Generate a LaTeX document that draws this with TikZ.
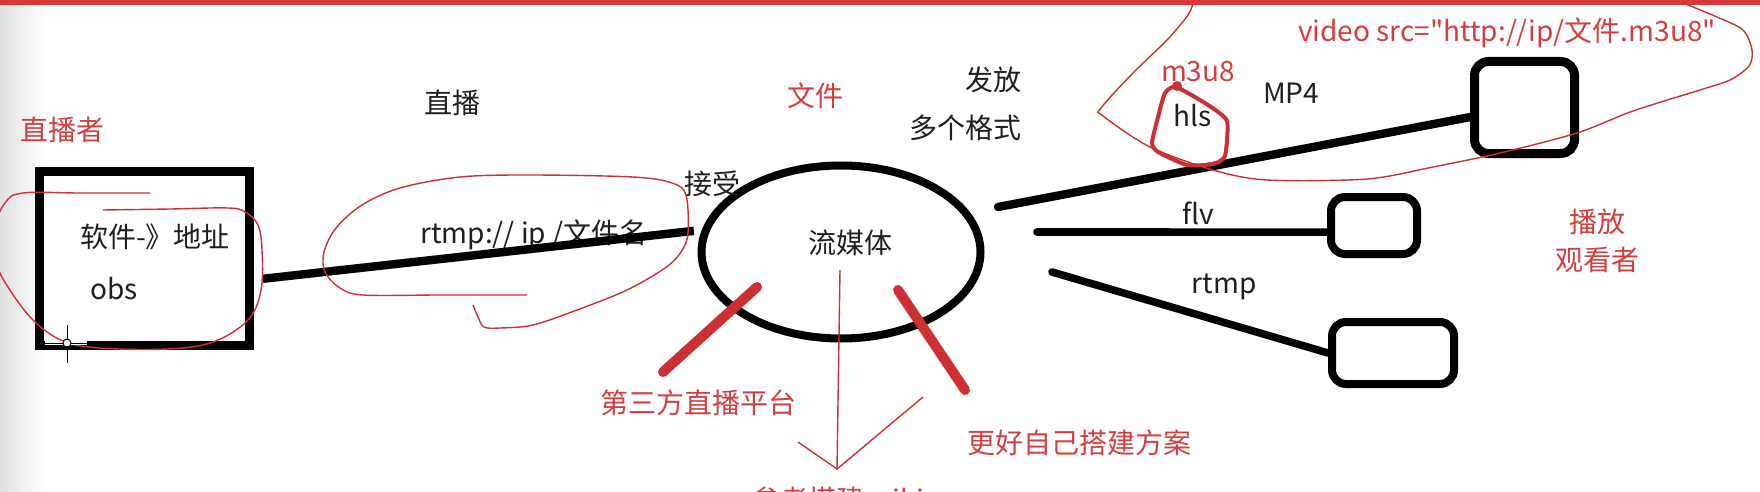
\documentclass[tikz,border=0pt]{standalone}
\usepackage{fontspec}
\setmainfont{Noto Sans CJK SC}[Ligatures=TeXOff]
\usetikzlibrary{shapes.geometric,calc}
\definecolor{redtxt}{RGB}{212,62,62}
\definecolor{redpen}{RGB}{205,48,52}
\definecolor{redbar}{RGB}{216,56,58}
\begin{document}
\begin{tikzpicture}[x=0.5pt,y=-0.5pt,
  txt/.style={inner sep=0pt, font=\fontsize{14pt}{16pt}\selectfont, text=black!88},
  rtxt/.style={txt, text=redtxt},
  wire/.style={line width=4.2pt, line cap=butt},
  pen/.style={redpen, line width=0.7pt},
  marker/.style={redpen, line width=5pt, line cap=round},
  vbox/.style={draw, line width=4.5pt, rounded corners=7pt, inner sep=0pt}]
\useasboundingbox (0,0) rectangle (1760,492);
\clip (0,0) rectangle (1760,492);
\fill[white] (0,0) rectangle (1760,492);
\shade[left color=black!12, right color=white] (0,0) rectangle (45,492);
\fill[redbar] (0,0) rectangle (1760,5);

% main shapes
\node[draw, line width=4.5pt, minimum width=105pt, minimum height=87pt, inner sep=0pt] (src) at (144.5,258.5) {};
\node[ellipse, draw, line width=4pt, minimum width=139.5pt, minimum height=86.5pt, inner sep=0pt] (med) at (841,252) {};
\node[vbox, minimum width=50pt, minimum height=46pt] (b1) at (1524.5,107.5) {};
\node[vbox, line width=4pt, minimum width=43pt, minimum height=28.5pt] (b2) at (1374,225.5) {};
\node[vbox, line width=4pt, minimum width=61pt, minimum height=31pt] (b3) at (1393,353) {};

% texts
\node[rtxt] (t1) at (62,130) {直播者};
\node[txt] (t2) at (155,237) {软件-》地址};
\node[txt] (t3) at (114,289) {obs};
\node[txt] (t4) at (452,103) {直播};
\node[txt] (t5) at (534,235) {rtmp:// ip /文件名};
\node[txt] (t6) at (712,184) {接受};
\node[rtxt] (t7) at (815,96) {文件};
\node[txt] (t8) at (850,243) {流媒体};
\node[txt] (t9) at (993,80) {发放};
\node[txt] (t10) at (965,128) {多个格式};
\node[rtxt] (t11) at (698,403) {第三方直播平台};
\node[rtxt] (t12) at (1079,443) {更好自己搭建方案};
\node[rtxt, anchor=north] (t13) at (838,486) {参考搭建 wiki};
\node[rtxt] (t14) at (1198,72) {m3u8};
\node[txt] (t15) at (1193,116) {hls};
\node[txt] (t16) at (1291,93) {MP4};
\node[rtxt] (t17) at (1507,33) {video src="http://ip/文件.m3u8"};
\node[txt] (t18) at (1198,213) {flv};
\node[txt] (t19) at (1224,287) {rtmp};
\node[rtxt] (t20) at (1597,222) {播放};
\node[rtxt] (t21) at (1597,260) {观看者};

% connectors
\draw[wire, shorten <=4.5pt, shorten >=4pt] (src.-11) -- (med.171.5);
\coordinate (m1) at (998,207);
\coordinate (m2) at (1037,232);
\coordinate (m3) at (1052,272);
\draw[wire, line cap=round] (m1) -- (b1.190);
\draw[wire, line width=3.8pt, line cap=round] (m2) -- (b2.188);
\draw[wire, line width=3.8pt, line cap=round] (m3) -- (b3.west);

% red marker strokes
\coordinate (r1a) at (757,287); \coordinate (r1b) at (663,372);
\coordinate (r2a) at (898,290); \coordinate (r2b) at (965,390);
\draw[marker] (r1a) -- (r1b);
\draw[marker] (r2a) -- (r2b);

% thin red arrow
\coordinate (ar0) at (840,270); \coordinate (ar1) at (837,469);
\coordinate (al) at (798,442); \coordinate (arr) at (923,397);
\draw[pen] (ar0) -- (ar1);
\draw[pen] (al) -- (ar1) -- (arr);

% red scribbles
\draw[pen] plot[smooth, tension=0.6] coordinates {(150,193) (80,193) (23,193) (5,203) (-6,230) (-4,262) (8,287) (33,320) (63,341) (100,348) (167,349) (213,342) (248,320) (261,290) (262,250) (258,225) (245,212) (228,208) (170,209) (103,210)};
\draw[pen] plot[smooth, tension=0.55] coordinates {(527,295) (440,295) (363,295) (340,288) (325,272) (324,252) (336,228) (362,205) (400,188) (460,177) (530,175) (633,177) (672,183) (686,195) (688,233) (681,252) (665,268) (627,290) (577,310) (533,325) (500,328) (484,327) (478,317) (473,305)};
\draw[pen] plot[smooth, tension=0.5] coordinates {(1193,3) (1188,15) (1167,40) (1133,73) (1101,108) (1103,116) (1150,147) (1213,170) (1267,180) (1367,179) (1433,167) (1500,153) (1577,133) (1633,111) (1700,90) (1730,80) (1749,66) (1752,50) (1743,30) (1717,17) (1683,3)};
\draw[redpen, line width=2pt, line join=round] plot[smooth cycle, tension=0.35] coordinates {(1176,87) (1208,105) (1227,121) (1225,156) (1213,164) (1187,165) (1158,152) (1152,143) (1158,117) (1165,93)};
\fill[redpen] (1177,86) circle (2.5pt);

% cursor
\coordinate (cur) at (67,343);
\draw[white, line width=1.6pt] ($(cur)+(-22,0)$) -- ($(cur)+(20,0)$);
\draw[black, line width=0.5pt] ($(cur)+(-22,0)$) -- ($(cur)+(20,0)$);
\draw[black, line width=0.5pt] ($(cur)+(0,-18)$) -- ($(cur)+(0,20)$);
\draw[black, fill=white, line width=0.5pt] (cur) circle (2pt);
\end{tikzpicture}
\end{document}
